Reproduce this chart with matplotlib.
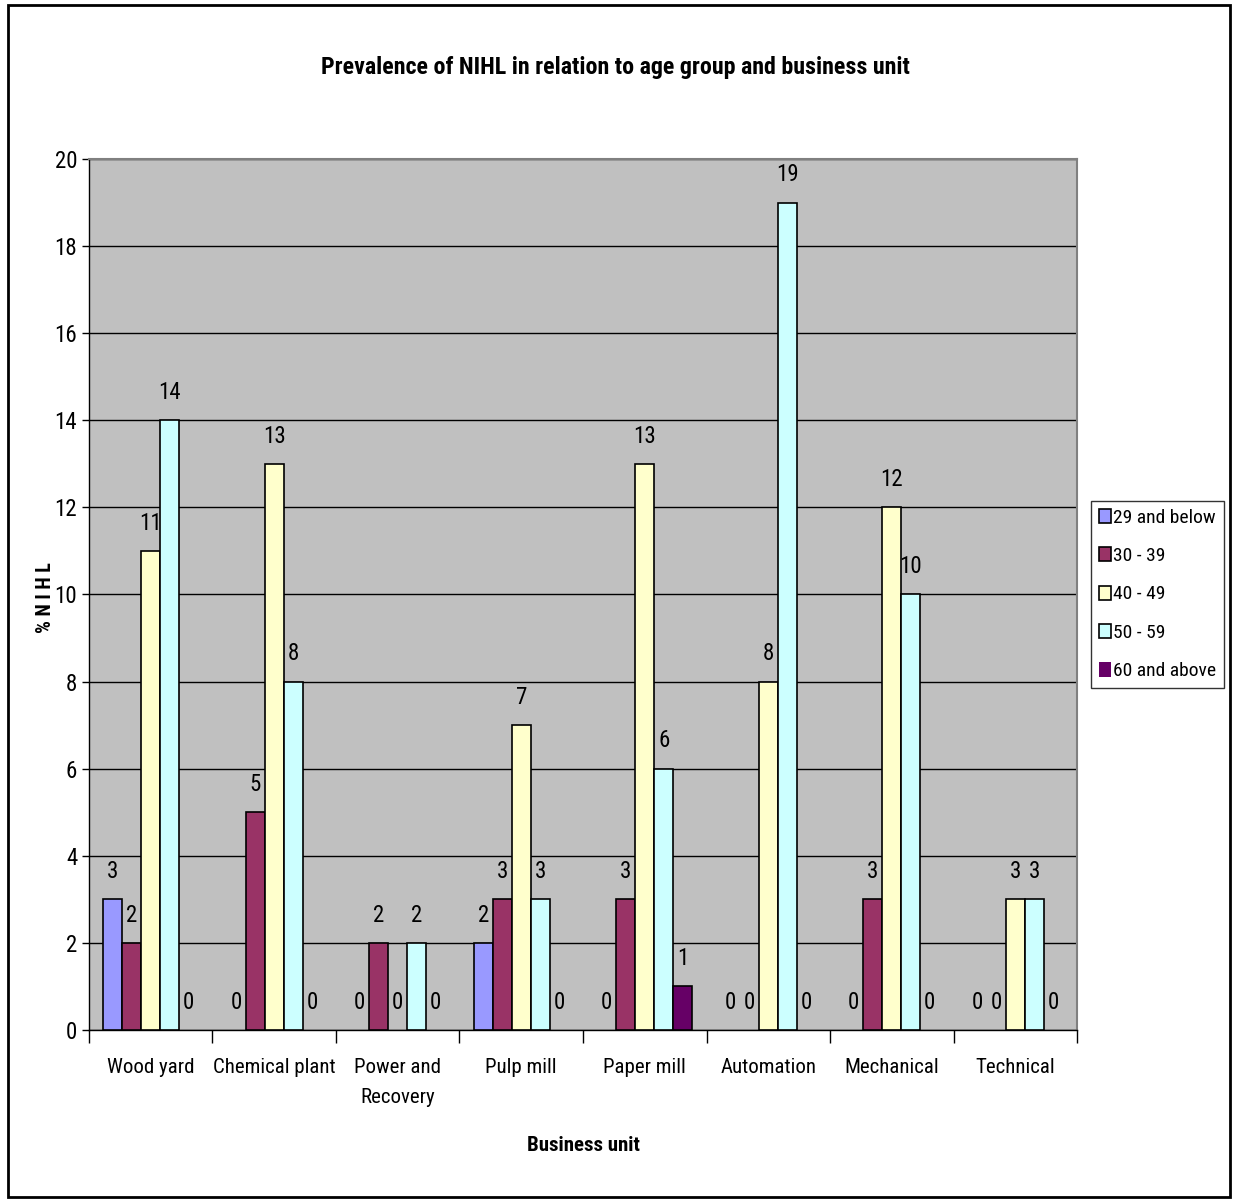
import numpy as np
import matplotlib

matplotlib.use("Agg")
import matplotlib.pyplot as plt
from matplotlib import font_manager
from matplotlib.patches import Rectangle

# prefer a narrow sans face; fall back to Liberation Sans
names = {f.name for f in font_manager.fontManager.ttflist}
narrow = [n for n in ["Liberation Sans Narrow", "Arial Narrow", "Roboto Condensed",
                      "Open Sans Condensed", "Noto Sans Condensed"] if n in names]
narrow += sorted(n for n in names if "Narrow" in n or "Condensed" in n)
FONT = narrow[0] if narrow else "Liberation Sans"
plt.rcParams["font.family"] = [FONT, "DejaVu Sans"]
NARROW = bool(narrow)

units = ["Wood yard", "Chemical plant", "Power and\nRecovery", "Pulp mill",
         "Paper mill", "Automation", "Mechanical", "Technical"]
age_groups = ["29 and below", "30 - 39", "40 - 49", "50 - 59", "60 and above"]
age_29_below = [3, 0, 0, 2, 0, 0, 0, 0]
age_30_39 = [2, 5, 2, 3, 3, 0, 3, 0]
age_40_49 = [11, 13, 0, 7, 13, 8, 12, 3]
age_50_59 = [14, 8, 2, 3, 6, 19, 10, 3]
age_60_above = [0, 0, 0, 0, 1, 0, 0, 0]
colors = ["#9999FF", "#993366", "#FFFFCC", "#CCFFFF", "#660066"]

series = [age_29_below, age_30_39, age_40_49, age_50_59, age_60_above]

fs = 15 if NARROW else 13.5
fs_num = 16.5 if NARROW else 15

fig = plt.figure(figsize=(12.34, 12.01), dpi=100)
fig.patches.append(Rectangle((0.0065, 0.003), 0.9905, 0.993, transform=fig.transFigure,
                             fill=False, edgecolor="black", linewidth=2))

ax = fig.add_axes([0.0721, 0.1424, 0.8007, 0.7252])
ax.set_facecolor("#C0C0C0")

x = np.arange(len(units))
width = 0.154
for i, (vals, name, c) in enumerate(zip(series, age_groups, colors)):
    pos = x + (i - 2) * width
    bars = ax.bar(pos, vals, width, color=c, edgecolor="black", linewidth=1.2,
                  label=name, zorder=3)
    for b, v in zip(bars, vals):
        if v == 0:
            b.set_linewidth(0)
        ax.annotate(str(v), (b.get_x() + b.get_width() / 2, v),
                    xytext=(0, 20), textcoords="offset points",
                    ha="center", va="center", fontsize=fs_num)

ax.set_xlim(-0.5, len(units) - 0.5)
ax.set_ylim(0, 20)
ax.set_yticks(range(0, 21, 2))
ax.yaxis.grid(True, color="black", linewidth=1, zorder=1)
ax.set_axisbelow(True)

# category boundaries get the tick marks, names sit between them
ax.set_xticks(np.arange(-0.5, len(units), 1))
ax.set_xticklabels([])
ax.set_xticks(x, minor=True)
ax.set_xticklabels(units, minor=True, fontsize=fs, linespacing=1.75)
ax.tick_params(axis="x", which="major", length=9, width=1, direction="out")
ax.tick_params(axis="x", which="minor", length=0, pad=20)
ax.tick_params(axis="y", length=5, width=1, labelsize=fs_num)

for side in ["top", "right"]:
    ax.spines[side].set_color("#808080")
    ax.spines[side].set_linewidth(1.5)
for side in ["left", "bottom"]:
    ax.spines[side].set_color("black")
    ax.spines[side].set_linewidth(1)

ax.set_xlabel("Business unit", fontsize=fs, fontweight="bold", va="center")
ax.xaxis.set_label_coords(0.5, -0.133)
ax.set_ylabel("% N I H L", fontsize=fs - 0.5, fontweight="bold", va="center")
ax.yaxis.set_label_coords(-0.0445, 0.497)

fig.text(0.4984, 0.944, "Prevalence of NIHL in relation to age group and business unit",
         ha="center", va="center", fontsize=17.3 if NARROW else 15, fontweight="bold")

leg = ax.legend(loc="center left", bbox_to_anchor=(1.0142, 0.5),
                fontsize=14 if NARROW else 12,
                frameon=True, fancybox=False, edgecolor="black",
                handlelength=0.6, handleheight=0.75, handletextpad=0.15,
                borderpad=0.4, labelspacing=1.05, borderaxespad=0)
leg.get_frame().set_linewidth(1)

fig.savefig("out.png", dpi=100)
